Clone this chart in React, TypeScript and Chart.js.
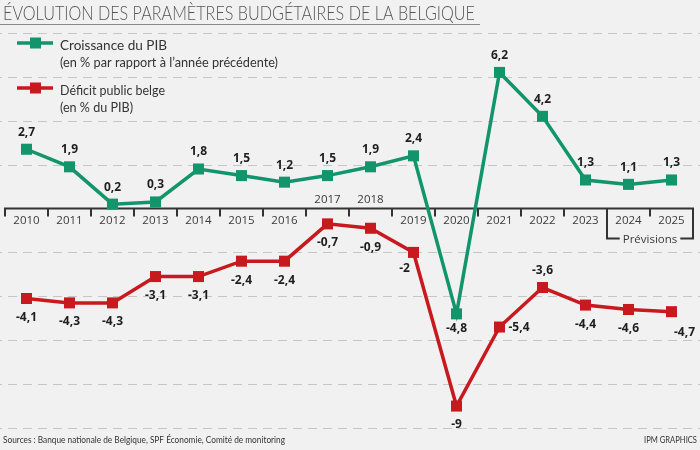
import React, { useEffect, useRef } from "react";
import { Chart, registerables } from "chart.js";

Chart.register(...registerables);

// ---- Data ----
const years = ["2010", "2011", "2012", "2013", "2014", "2015", "2016", "2017", "2018", "2019", "2020", "2021", "2022", "2023", "2024", "2025"];
const growth = [2.7, 1.9, 0.2, 0.3, 1.8, 1.5, 1.2, 1.5, 1.9, 2.4, -4.8, 6.2, 4.2, 1.3, 1.1, 1.3];
const deficit = [-4.1, -4.3, -4.3, -3.1, -3.1, -2.4, -2.4, -0.7, -0.9, -2, -9, -5.4, -3.6, -4.4, -4.6, -4.7];
const gridValues = [-10, -8, -6, -4, -2, 2, 4, 6, 8];
const forecastYears = ["2024", "2025"];
const yearsAboveAxis = ["2017", "2018"];

const titleText = "ÉVOLUTION DES PARAMÈTRES BUDGÉTAIRES DE LA BELGIQUE";
const growthLegend = ["Croissance du PIB", "(en % par rapport à l’année précédente)"];
const deficitLegend = ["Déficit public belge", "(en % du PIB)"];
const forecastLabel = "Prévisions";
const sourceText = "Sources : Banque nationale de Belgique, SPF Économie, Comité de monitoring";
const creditText = "IPM GRAPHICS";

// ---- Styles ----
const GREEN = "#12956a";
const RED = "#c8191f";
const BG = "#f1f1f1";
const AXIS = "#333333";

const fmt = (v: number) => String(v).replace(".", ",");

function fitText(ctx: CanvasRenderingContext2D, text: string, x: number, y: number, width: number, align: CanvasTextAlign = "left") {
  const w = ctx.measureText(text).width;
  const s = w > 0 ? width / w : 1;
  ctx.save();
  ctx.translate(x, y);
  ctx.scale(s, 1);
  ctx.textAlign = align;
  ctx.fillText(text, 0, 0);
  ctx.restore();
}

const backgroundPlugin = {
  id: "bgAndGrid",
  beforeDraw(chart: any) {
    const { ctx, width, height } = chart;
    ctx.save();
    ctx.fillStyle = BG;
    ctx.fillRect(0, 0, width, height);
    ctx.restore();
  },
  beforeDatasetsDraw(chart: any) {
    const { ctx, width } = chart;
    const y = chart.scales.y;
    const x = chart.scales.x;
    ctx.save();
    // dashed grid lines over full width
    ctx.strokeStyle = "#c6c6c6";
    ctx.lineWidth = 1.2;
    ctx.setLineDash([9, 6]);
    ctx.lineDashOffset = -8;
    gridValues.forEach((v) => {
      const py = Math.round(y.getPixelForValue(v)) + 0.5;
      ctx.beginPath();
      ctx.moveTo(0, py);
      ctx.lineTo(width, py);
      ctx.stroke();
    });
    ctx.setLineDash([]);

    // axis at zero
    const y0 = y.getPixelForValue(0);
    const half = (x.getPixelForValue(1) - x.getPixelForValue(0)) / 2;
    const left = x.getPixelForValue(0) - half;
    const right = x.getPixelForValue(years.length - 1) + half;
    ctx.strokeStyle = AXIS;
    ctx.lineWidth = 2;
    ctx.beginPath();
    ctx.moveTo(left - 1, y0);
    ctx.lineTo(right + 1, y0);
    ctx.stroke();

    const fStart = years.indexOf(forecastYears[0]);
    const fEnd = years.indexOf(forecastYears[forecastYears.length - 1]);
    const fLeft = x.getPixelForValue(fStart) - half;
    const fRight = x.getPixelForValue(fEnd) + half;
    const bracketY = y0 + 30;

    for (let i = 0; i <= years.length; i++) {
      const px = left + i * 2 * half;
      const isBracket = Math.abs(px - fLeft) < 1 || Math.abs(px - fRight) < 1;
      ctx.beginPath();
      ctx.moveTo(px, y0);
      ctx.lineTo(px, isBracket ? bracketY : y0 + 8);
      ctx.stroke();
    }

    // year labels
    ctx.fillStyle = "#3a3a3a";
    ctx.font = "11.5px 'Open Sans'";
    ctx.textAlign = "center";
    ctx.textBaseline = "middle";
    years.forEach((yr, i) => {
      const px = x.getPixelForValue(i);
      const py = yearsAboveAxis.includes(yr) ? y0 - 9 : y0 + 12;
      ctx.fillText(yr, px, py);
    });

    // Prévisions bracket
    ctx.font = "11.5px 'Open Sans'";
    const tw = ctx.measureText(forecastLabel).width;
    const mid = (fLeft + fRight) / 2;
    ctx.beginPath();
    ctx.moveTo(fLeft - 1, bracketY);
    ctx.lineTo(mid - tw / 2 - 3, bracketY);
    ctx.moveTo(mid + tw / 2 + 3, bracketY);
    ctx.lineTo(fRight + 1, bracketY);
    ctx.stroke();
    ctx.fillText(forecastLabel, mid, bracketY + 1);
    ctx.restore();
  },
};

function labelPlacement(dsIndex: number, i: number, v: number) {
  if (dsIndex === 0) {
    return v < 0 ? { dx: 0, dy: 15, align: "center" as CanvasTextAlign } : { dx: 0, dy: -17, align: "center" as CanvasTextAlign };
  }
  const yr = years[i];
  if (yr === "2019") return { dx: -9, dy: 16, align: "center" as CanvasTextAlign };
  if (yr === "2021") return { dx: 9, dy: 1, align: "left" as CanvasTextAlign };
  if (yr === "2022") return { dx: 0, dy: -17, align: "center" as CanvasTextAlign };
  if (yr === "2025") return { dx: 13, dy: 21, align: "center" as CanvasTextAlign };
  return { dx: 0, dy: 19, align: "center" as CanvasTextAlign };
}

const labelsPlugin = {
  id: "pointLabels",
  afterDatasetsDraw(chart: any) {
    const { ctx } = chart;
    ctx.save();
    ctx.font = "bold 12px 'Open Sans'";
    ctx.fillStyle = "#1e1e1e";
    ctx.textBaseline = "middle";
    chart.data.datasets.forEach((ds: any, di: number) => {
      const meta = chart.getDatasetMeta(di);
      meta.data.forEach((pt: any, i: number) => {
        const v = ds.data[i] as number;
        const p = labelPlacement(di, i, v);
        ctx.textAlign = p.align;
        ctx.fillText(fmt(v), pt.x + p.dx, pt.y + p.dy);
      });
    });
    ctx.restore();
  },
};

const decorPlugin = {
  id: "decor",
  afterDraw(chart: any) {
    const { ctx, width } = chart;
    ctx.save();
    // title
    ctx.fillStyle = "#555555";
    ctx.font = "300 20px Lato";
    ctx.textBaseline = "alphabetic";
    fitText(ctx, titleText, 3, 20, 472);
    ctx.strokeStyle = "#8a8a8a";
    ctx.lineWidth = 1;
    ctx.beginPath();
    ctx.moveTo(0, 24.5);
    ctx.lineTo(480, 24.5);
    ctx.stroke();

    // legend
    const items = [
      { color: chart.data.datasets[0].borderColor, lines: growthLegend, y: 43, widths: [107, 218] },
      { color: chart.data.datasets[1].borderColor, lines: deficitLegend, y: 88, widths: [105, 73] },
    ];
    items.forEach((it) => {
      ctx.strokeStyle = it.color;
      ctx.lineWidth = 3.5;
      ctx.beginPath();
      ctx.moveTo(17, it.y);
      ctx.lineTo(53, it.y);
      ctx.stroke();
      ctx.fillStyle = it.color;
      ctx.fillRect(35.5 - 5.5, it.y - 5.5, 11, 11);
      ctx.fillStyle = "#333";
      ctx.font = "13.5px Lato";
      ctx.textBaseline = "middle";
      fitText(ctx, it.lines[0], 60, it.y + 3, it.widths[0]);
      fitText(ctx, it.lines[1], 60, it.y + 20, it.widths[1]);
    });

    // footer
    ctx.fillStyle = "#333";
    ctx.font = "10px Lato";
    ctx.textBaseline = "middle";
    fitText(ctx, sourceText, 3, 440, 282);
    fitText(ctx, creditText, width - 3, 440, 53, "right");
    ctx.restore();
  },
};

export default function App() {
  const canvasRef = useRef<HTMLCanvasElement | null>(null);

  useEffect(() => {
    document.body.style.margin = "0";
    const canvas = canvasRef.current;
    if (!canvas) return;
    const chart = new Chart(canvas, {
      type: "line",
      data: {
        labels: years,
        datasets: [
          {
            label: growthLegend[0],
            data: growth,
            borderColor: GREEN,
            backgroundColor: GREEN,
            borderWidth: 3.5,
            pointStyle: "rect",
            pointRadius: 7.8,
            pointBorderWidth: 0,
            pointBackgroundColor: GREEN,
            tension: 0,
            clip: false,
          },
          {
            label: deficitLegend[0],
            data: deficit,
            borderColor: RED,
            backgroundColor: RED,
            borderWidth: 3.5,
            pointStyle: "rect",
            pointRadius: 7.8,
            pointBorderWidth: 0,
            pointBackgroundColor: RED,
            tension: 0,
            clip: false,
          },
        ],
      },
      options: {
        animation: false,
        responsive: true,
        maintainAspectRatio: false,
        layout: { autoPadding: false, padding: { left: 5, right: 7, top: 0, bottom: 22 } },
        plugins: {
          legend: { display: false },
          title: { display: false },
          tooltip: { enabled: false },
        },
        scales: {
          x: { type: "category", offset: true, display: false },
          y: { min: -10, max: 9.5, display: false },
        },
      },
      plugins: [backgroundPlugin, labelsPlugin, decorPlugin],
    });
    return () => chart.destroy();
  }, []);

  return (
    <div style={{ position: "relative", width: 700, height: 450, background: BG }}>
      <canvas ref={canvasRef} />
    </div>
  );
}
